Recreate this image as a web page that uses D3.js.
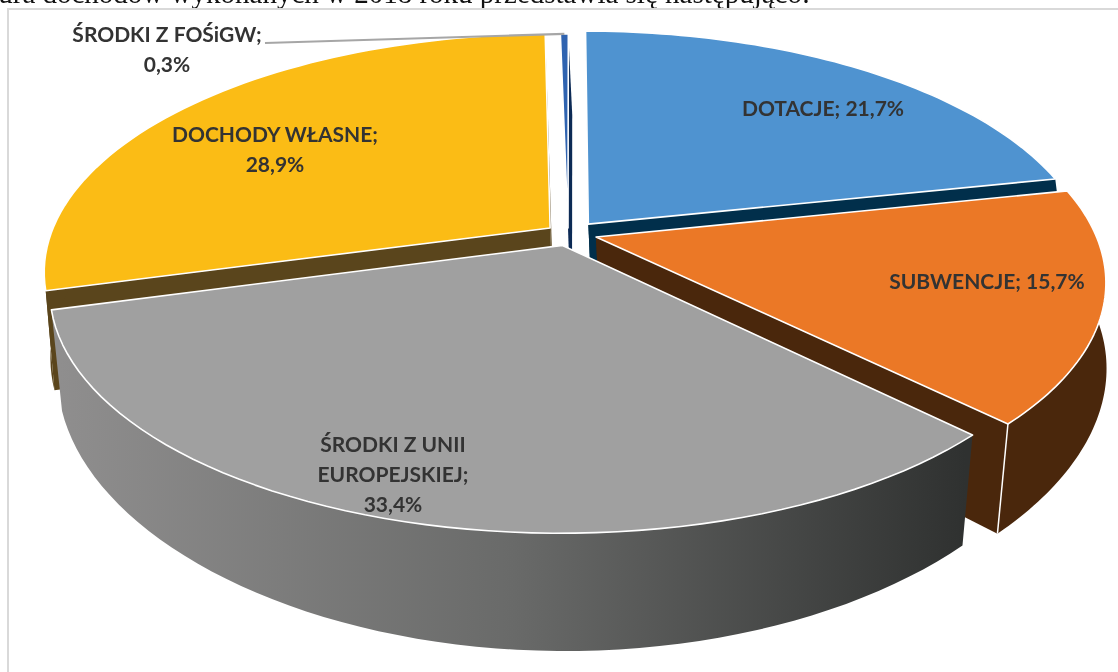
<!DOCTYPE html>
<html>
<head>
<meta charset="utf-8">
<script src="https://cdn.jsdelivr.net/npm/d3@7"></script>
<style>
  html, body { margin: 0; padding: 0; background: #fff; overflow: hidden; }
  svg { filter: blur(0.35px); }
  text { font-family: Lato, sans-serif; font-weight: 700; fill: #333; font-size: 21px; }
  .zdanie { font-family: "Liberation Serif", serif; font-weight: 400; fill: #111; font-size: 29px; }
</style>
</head>
<body>
<svg id="chart" width="1118" height="672"></svg>
<script>
// dane
var categories = ['DOTACJE', 'SUBWENCJE', 'ŚRODKI Z UNII EUROPEJSKIEJ', 'DOCHODY WŁASNE', 'ŚRODKI Z FOŚiGW'];
var values = [21.7, 15.7, 33.4, 28.9, 0.3];
var labelLines = [
  ['DOTACJE; 21,7%'],
  ['SUBWENCJE; 15,7%'],
  ['ŚRODKI Z UNII', 'EUROPEJSKIEJ;', '33,4%'],
  ['DOCHODY WŁASNE;', '28,9%'],
  ['ŚRODKI Z FOŚiGW;', '0,3%']
];

// kolory: wierzch / bok
var topColors = ['#4f93d0', '#eb7826', '#a0a0a0', '#fbbc15', '#2f63b0'];
var sideColors = ['#012f4b', '#4a270c', 'url(#bokSzary)', '#5a451c', '#0c2a55'];
// wysuniecie kawalkow na plaszczyznie kola
var explode = [[0.037, -0.017], [0.052, 0.039], [-0.015, 0.075], [-0.04, 0], [-0.004, 0]];
var labelPos = [[823, 109], [987, 282], [393, 475], [275, 150], [167, 50]];

// rzut perspektywiczny kola
var cx = 570, cy = 228, R = 497, k = 229, p = 0.18;
var depth = 95;

function project(u, v) {
  var s = 1 / (1 - p * v);
  return [cx + u * R * s, cy + v * k * s];
}
// ten sam punkt na dolnej krawedzi bryly
function projectLow(u, v) {
  var s = 1 / (1 - p * v), t = project(u, v);
  var pull = -0.004 + 0.05 * v; // pionowe krawedzie zbiegaja sie ku dolowi
  return [cx + 4 + (t[0] - cx) * (1 - pull), t[1] + depth * s];
}
function rim(o, a) { return [o[0] + Math.sin(a), o[1] - Math.cos(a)]; }

var svg = d3.select('#chart');
var line = d3.line();

var grad = svg.append('defs').append('linearGradient')
  .attr('id', 'bokSzary').attr('gradientUnits', 'userSpaceOnUse')
  .attr('x1', 60).attr('x2', 966).attr('y1', 0).attr('y2', 0);
grad.append('stop').attr('offset', '0').attr('stop-color', '#8f8e8e');
grad.append('stop').attr('offset', '0.5').attr('stop-color', '#696a69');
grad.append('stop').attr('offset', '1').attr('stop-color', '#2f3130');

// zdanie nad wykresem (uciete u gory)
svg.append('text').attr('class', 'zdanie').attr('x', 810).attr('y', 3).attr('text-anchor', 'end')
  .text('ura dochodów wykonanych w 2018 roku przedstawia się następująco:');
svg.append('rect').attr('x', 8).attr('y', 9).attr('width', 1130).attr('height', 700)
  .attr('fill', '#fff').attr('stroke', '#d9d9d9').attr('stroke-width', 2);

var arcs = d3.pie().sort(null).value(function(d) { return d; })(values);
// kolejnosc rysowania: od tylu do przodu
var order = [0, 4, 3, 1, 2];
var frontFrom = 80 * Math.PI / 180, frontTo = 282 * Math.PI / 180;

order.forEach(function(i) {
  var d = arcs[i], o = explode[i];
  var angles = d3.range(0, 61).map(function(j) { return d.startAngle + (d.endAngle - d.startAngle) * j / 60; });
  var g = svg.append('g').attr('class', 'kawalek').datum(categories[i]);

  // sciany promieniowe
  [d.startAngle, d.endAngle].forEach(function(a) {
    var e = rim(o, a);
    g.append('path').attr('fill', sideColors[i] === 'url(#bokSzary)' ? 'none' : sideColors[i])
      .attr('d', line([project(o[0], o[1]), project(e[0], e[1]), projectLow(e[0], e[1]), projectLow(o[0], o[1])]) + 'Z');
  });

  // sciana zewnetrzna, tylko od frontu
  var front = angles.filter(function(a) { return a >= frontFrom && a <= frontTo; });
  if (front.length) {
    var up = front.map(function(a) { var e = rim(o, a); return project(e[0], e[1]); });
    var low = front.map(function(a) { var e = rim(o, a); return projectLow(e[0], e[1]); }).reverse();
    g.append('path').attr('fill', sideColors[i]).attr('d', line(up.concat(low)) + 'Z');
    // biala krawedz pionowa
    if (i === 1) {
      var last = rim(o, d.endAngle);
      g.append('path').attr('stroke', '#fff').attr('stroke-width', 1.5).attr('fill', 'none')
        .attr('d', line([project(last[0], last[1]), projectLow(last[0], last[1])]));
    }
  }

  // wierzch
  var pts = [project(o[0], o[1])].concat(angles.map(function(a) { var e = rim(o, a); return project(e[0], e[1]); }));
  g.append('path').attr('fill', topColors[i]).attr('stroke', '#fff').attr('stroke-width', 1.6)
    .attr('stroke-linejoin', 'round').attr('d', line(pts) + 'Z');
});

// linia odniesienia do FOSiGW
var foEnd = rim(explode[4], (arcs[4].startAngle + arcs[4].endAngle) / 2);
svg.append('path').attr('fill', 'none').attr('stroke', '#a6a6a6').attr('stroke-width', 2.2)
  .attr('d', line([[265, 43], project(foEnd[0], foEnd[1])]));

// etykiety
labelLines.forEach(function(lines, i) {
  var h = 30;
  var t = svg.append('text').attr('text-anchor', 'middle');
  lines.forEach(function(l, j) {
    t.append('tspan').attr('x', labelPos[i][0])
      .attr('y', labelPos[i][1] + 7 + (j - (lines.length - 1) / 2) * h).text(l);
  });
});
</script>
</body>
</html>
